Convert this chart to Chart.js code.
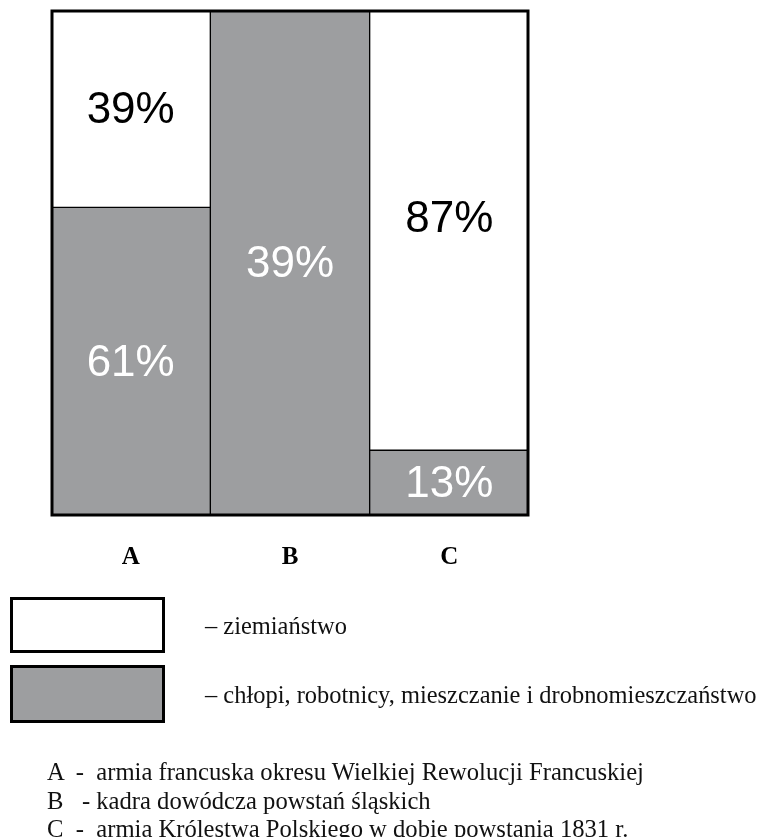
<!DOCTYPE html>
<html lang="pl">
<head>
<meta charset="utf-8">
<title>Skład społeczny</title>
<script src="https://cdn.jsdelivr.net/npm/chart.js@4/dist/chart.umd.min.js"></script>
<style>
  html, body { margin: 0; padding: 0; background: #fff; overflow: hidden; }
  #wrap { position: relative; width: 762px; height: 837px; }
  #wrap canvas { position: absolute; left: 0; top: 0; }
  .box { position: absolute; left: 10px; width: 149px; border: 3px solid #000; box-sizing: content-box; }
  .txt { position: absolute; font-family: "Liberation Serif", "Times New Roman", serif; color: #111; white-space: pre; line-height: 1; transform-origin: left center; }
  .leg { font-size: 26px; transform: scaleX(0.94); }
  .note { font-size: 25px; transform: scaleX(0.985); }
</style>
</head>
<body>
<div id="wrap">
  <canvas id="chart"></canvas>
  <div class="box" style="top:597px;height:50px;background:#fff"></div>
  <div class="box" style="top:665px;height:52px;background:#9d9ea0"></div>
  <div class="txt leg" id="leg0" style="left:205px;top:613px"></div>
  <div class="txt leg" id="leg1" style="left:205px;top:682px"></div>
  <div class="txt note" id="note0" style="left:47px;top:759px"></div>
  <div class="txt note" id="note1" style="left:47px;top:788px"></div>
  <div class="txt note" id="note2" style="left:47px;top:816px"></div>
</div>
<script>
// Kategorie i wartości (%)
const categories = ['A', 'B', 'C'];
const seriesNames = ['chłopi, robotnicy, mieszczanie i drobnomieszczaństwo', 'ziemiaństwo'];
const chlopiValues = [61, 100, 13];
const ziemianstwoValues = [39, null, 87];
// Podpisy wpisane w słupki
const chlopiLabels = ['61%', '39%', '13%'];
const ziemianstwoLabels = ['39%', '', '87%'];
const notes = [
  'A  -  armia francuska okresu Wielkiej Rewolucji Francuskiej',
  'B   - kadra dowódcza powstań śląskich',
  'C  -  armia Królestwa Polskiego w dobie powstania 1831 r.'
];

const GREY = '#9d9ea0';

document.getElementById('leg0').textContent = '– ' + seriesNames[1];
document.getElementById('leg1').textContent = '– ' + seriesNames[0];
notes.forEach((n, i) => { document.getElementById('note' + i).textContent = n; });

// Procenty w środku każdego segmentu
const segmentLabels = {
  id: 'segmentLabels',
  afterDatasetsDraw(chart) {
    const ctx = chart.ctx;
    const sets = [
      { labels: chlopiLabels, color: '#ffffff', shift: [0, 0, 0] },
      { labels: ziemianstwoLabels, color: '#000000', shift: [0, 0, -12] }
    ];
    ctx.save();
    ctx.font = '44px "Liberation Sans", Arial, sans-serif';
    ctx.textAlign = 'center';
    ctx.textBaseline = 'middle';
    sets.forEach((s, di) => {
      const meta = chart.getDatasetMeta(di);
      meta.data.forEach((el, i) => {
        const txt = s.labels[i];
        if (!txt) return;
        const p = el.getProps(['x', 'y', 'base'], true);
        ctx.fillStyle = s.color;
        ctx.fillText(txt, p.x, (p.y + p.base) / 2 + 2 + s.shift[i]);
      });
    });
    // obramowanie całego wykresu
    const a = chart.chartArea;
    ctx.strokeStyle = '#000';
    ctx.lineWidth = 3;
    ctx.strokeRect(a.left + 1, a.top + 1, a.right - a.left - 2, a.bottom - a.top - 2);
    ctx.restore();
  }
};

new Chart(document.getElementById('chart'), {
  type: 'bar',
  data: {
    labels: categories,
    datasets: [
      {
        label: seriesNames[0],
        data: chlopiValues,
        backgroundColor: GREY,
        borderColor: '#000',
        borderWidth: 1,
        borderSkipped: false
      },
      {
        label: seriesNames[1],
        data: ziemianstwoValues,
        backgroundColor: '#ffffff',
        borderColor: '#000',
        borderWidth: 1,
        borderSkipped: false
      }
    ]
  },
  options: {
    responsive: true,
    maintainAspectRatio: false,
    animation: false,
    layout: { padding: { left: 51, right: 233, top: 10, bottom: 237 } },
    datasets: { bar: { barPercentage: 1, categoryPercentage: 1 } },
    plugins: { legend: { display: false }, tooltip: { enabled: false } },
    scales: {
      x: {
        stacked: true,
        grid: { display: false, drawTicks: false },
        border: { display: false },
        ticks: {
          color: '#000',
          padding: 27,
          font: { family: '"Liberation Serif", "Times New Roman", serif', size: 25, weight: 'bold' }
        }
      },
      y: {
        stacked: true,
        display: false,
        min: 0,
        max: 100
      }
    }
  },
  plugins: [segmentLabels]
});
</script>
</body>
</html>
